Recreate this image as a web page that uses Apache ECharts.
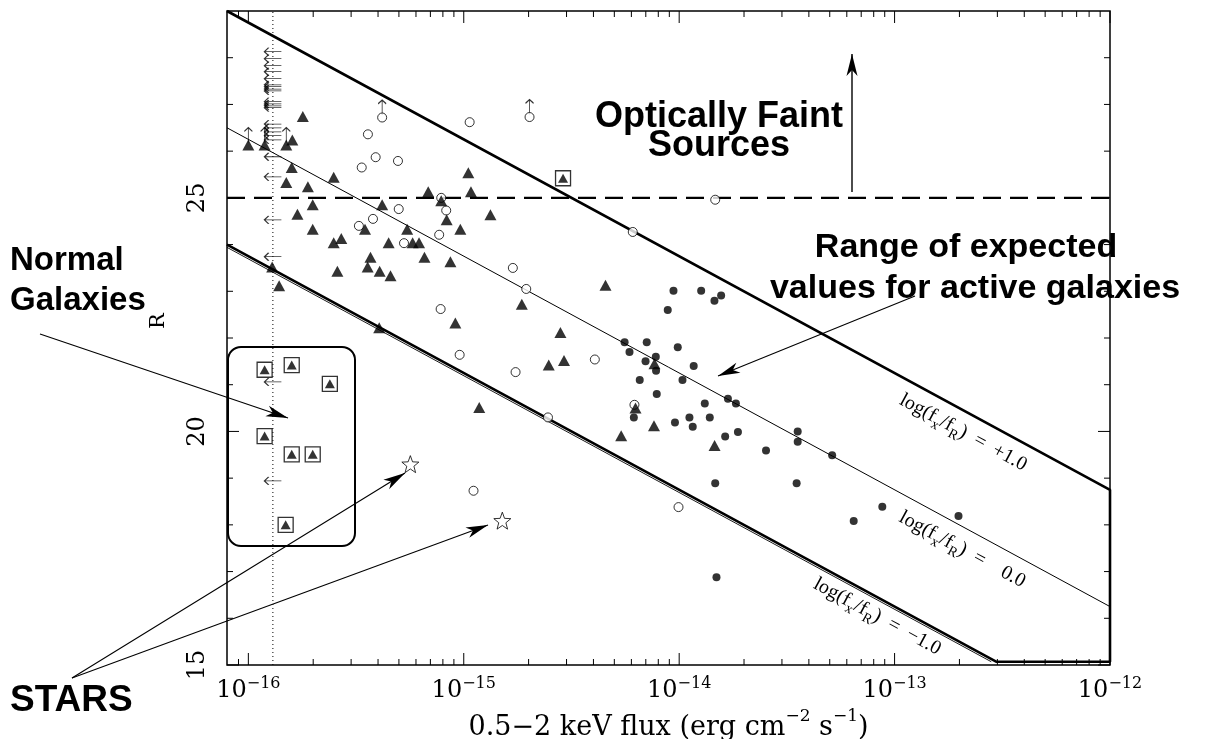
<!DOCTYPE html>
<html><head><meta charset="utf-8">
<script src="https://cdn.jsdelivr.net/npm/echarts@6/dist/echarts.min.js"></script>
<style>html,body{margin:0;padding:0;background:#fff}#c{width:1212px;height:739px}</style>
</head><body><div id="c"></div>
<script>
// ---------- data (0.5-2 keV flux, R magnitude) ----------
const triFlux = [1.00e-16,1.19e-16,1.50e-16,1.60e-16,1.79e-16,1.59e-16,1.50e-16,1.89e-16,2.49e-16,1.99e-16,1.69e-16,1.99e-16,2.49e-16,2.70e-16,3.69e-16,3.58e-16,2.59e-16,4.07e-16,4.57e-16,4.48e-16,5.79e-16,6.20e-16,3.48e-16,4.18e-16,5.46e-16,6.84e-16,7.86e-16,8.33e-16,9.64e-16,1.05e-15,1.08e-15,1.33e-15,6.57e-16,8.67e-16,1.29e-16,1.39e-16,4.05e-16,9.14e-16,1.86e-15,4.55e-15,2.81e-15,2.48e-15,2.92e-15,1.18e-15,7.64e-15,5.38e-15,1.46e-14,7.68e-15,6.27e-15];
const triR    = [26.13,26.13,26.13,26.24,26.74,25.65,25.33,25.24,25.44,24.85,24.65,24.33,24.04,24.13,23.73,23.52,23.43,23.43,23.33,24.04,24.04,24.04,24.33,24.85,24.33,25.13,24.94,24.53,24.33,25.54,25.13,24.64,23.73,23.63,23.52,23.12,22.22,22.32,22.72,23.13,22.12,21.42,21.52,20.51,20.12,19.91,19.70,21.45,20.50];

const openFlux = [4.18e-16,3.59e-16,3.90e-16,4.95e-16,3.36e-16,1.065e-15,2.02e-15,7.86e-16,8.29e-16,4.99e-16,3.79e-16,3.26e-16,7.69e-16,5.28e-16,1.69e-15,1.95e-15,7.81e-16,9.57e-16,1.74e-15,4.06e-15,2.46e-15,1.11e-15,6.09e-15,1.47e-14,9.93e-15,6.20e-15];
const openR    = [26.72,26.36,25.87,25.79,25.65,26.62,26.73,25.00,24.73,24.76,24.55,24.40,24.21,24.03,23.50,23.05,22.62,21.64,21.27,21.54,20.30,18.73,24.27,24.96,18.38,20.57];

const fillFlux = [9.41e-15,1.265e-14,1.566e-14,1.458e-14,8.85e-15,5.58e-15,7.07e-15,9.85e-15,5.88e-15,7.79e-15,6.98e-15,7.81e-15,1.168e-14,6.56e-15,1.036e-14,7.87e-15,1.684e-14,1.834e-14,1.315e-14,6.16e-15,1.116e-14,1.387e-14,9.56e-15,1.156e-14,1.635e-14,1.874e-14,2.53e-14,3.55e-14,3.55e-14,5.13e-14,1.47e-14,3.51e-14,8.77e-14,6.46e-14,1.98e-13,1.49e-14];
const fillR    = [23.01,23.01,22.91,22.80,22.60,21.91,21.91,21.80,21.70,21.60,21.50,21.30,21.40,21.10,21.10,20.80,20.70,20.60,20.60,20.30,20.30,20.30,20.19,20.10,19.89,19.99,19.59,20.00,19.78,19.49,18.89,18.89,18.39,18.08,18.19,16.88];

const boxFlux = [1.19e-16,1.59e-16,2.39e-16,1.19e-16,1.59e-16,1.99e-16,1.49e-16,2.89e-15];
const boxR    = [21.32,21.42,21.02,19.90,19.51,19.51,18.00,25.42];

const starFlux = [5.65e-16,1.51e-15];
const starR    = [19.30,18.09];

// X-ray upper limits (arrows pointing left) at the flux limit
const ulFlux = 1.3e-16;
const ulR = [28.13,27.98,27.83,27.70,27.55,27.42,27.38,27.33,27.29,27.06,27.01,26.97,26.93,26.58,26.50,26.41,26.33,26.24,25.88,25.45,24.53,23.74,21.06,18.94];

// R lower limits (arrows pointing up)
const llFlux = [1.00e-16,1.19e-16,1.50e-16,4.18e-16,2.02e-15];
const llR    = [26.13,26.13,26.13,26.72,26.73];

// reference lines
const bandFlux = [7.96e-17,1e-12,1e-12,2.96e-13,7.96e-17];
const bandR    = [29.0,18.75,15.07,15.07,24.0];
const bandInnerFlux = [7.96e-17,2.81e-13];
const bandInnerR    = [23.94,15.07];
const zeroLineFlux = [7.96e-17,1e-12];
const zeroLineR    = [26.5,16.25];
const faintLimitR = 25;
const fluxLimit = 1.3e-16;

// axes
const xMin = 7.96e-17, xMax = 1e-12, yMin = 15, yMax = 29;
const xMajorTicks = [1e-16,1e-15,1e-14,1e-13,1e-12];
const xMinorTicks = [9e-17,2e-16,3e-16,4e-16,5e-16,6e-16,7e-16,8e-16,9e-16,2e-15,3e-15,4e-15,5e-15,6e-15,7e-15,8e-15,9e-15,2e-14,3e-14,4e-14,5e-14,6e-14,7e-14,8e-14,9e-14,2e-13,3e-13,4e-13,5e-13,6e-13,7e-13,8e-13,9e-13];
const yMajorTicks = [15,20,25];
const yMinorTicks = [16,17,18,19,21,22,23,24,26,27,28];

// ---------- helpers ----------
const zip = (a, b) => a.map((v, i) => [v, b[i]]);
const MINUS = '\u2212';
function starPath() {
  let d = '';
  for (let i = 0; i < 10; i++) {
    const ang = (-90 + 36 * i) * Math.PI / 180;
    const r = i % 2 === 0 ? 10 : 4.2;
    d += (i === 0 ? 'M' : 'L') + (10 + r * Math.cos(ang)).toFixed(2) + ',' + (10 + r * Math.sin(ang)).toFixed(2) + ' ';
  }
  return 'path://' + d + 'Z';
}
function head(tx, ty, fx, fy, len, hw, notch) {
  const a = Math.atan2(ty - fy, tx - fx);
  const c = Math.cos(a), s = Math.sin(a);
  const bx = tx - len * c, by = ty - len * s;
  return [[tx, ty], [bx - hw * s, by + hw * c], [tx - (len - notch) * c, ty - (len - notch) * s], [bx + hw * s, by - hw * c]];
}
function arrow(x1, y1, x2, y2, w) {
  return [
    {type: 'polyline', z: 100, shape: {points: [[x1, y1], [x2, y2]]}, style: {stroke: '#000', lineWidth: w || 1.2, fill: null}},
    {type: 'polygon', z: 100, shape: {points: head(x2, y2, x1, y1, 22, 5.5, 6)}, style: {fill: '#000'}}
  ];
}
function ticksSeries(vals, major, isX) {
  return {
    type: 'custom', silent: true, clip: false, z: 20,
    encode: {x: 0, y: 1},
    data: vals.map(v => isX ? [v, yMin] : [xMin, v]),
    renderItem: function (params, api) {
      const cs = params.coordSys;
      const len = major ? 12 : 6;
      const st = {stroke: '#000', lineWidth: 1};
      if (isX) {
        const p = api.coord([api.value(0), yMin]);
        return {type: 'group', children: [
          {type: 'line', shape: {x1: p[0], y1: cs.y + cs.height, x2: p[0], y2: cs.y + cs.height - len}, style: st},
          {type: 'line', shape: {x1: p[0], y1: cs.y, x2: p[0], y2: cs.y + len}, style: st}
        ]};
      } else {
        const p = api.coord([xMin, api.value(1)]);
        return {type: 'group', children: [
          {type: 'line', shape: {x1: cs.x, y1: p[1], x2: cs.x + len, y2: p[1]}, style: st},
          {type: 'line', shape: {x1: cs.x + cs.width, y1: p[1], x2: cs.x + cs.width - len, y2: p[1]}, style: st}
        ]};
      }
    }
  };
}
const serif = '"Liberation Serif", "Times New Roman", serif';
const wserif = '"DejaVu Serif", "Liberation Serif", serif';
const sans = '"Liberation Sans", Arial, sans-serif';
const ratioRich = {
  n: {fontFamily: serif, fontSize: 20, lineHeight: 21, verticalAlign: 'top', color: '#000'},
  sub: {fontFamily: serif, fontSize: 14, lineHeight: 14, verticalAlign: 'top', padding: [10, 0, 0, 0], color: '#000'}
};
const lineAngle = -28.44 * Math.PI / 180;

const chart = echarts.init(document.getElementById('c'), null, {renderer: 'canvas'});
chart.setOption({
  animation: false,
  backgroundColor: '#fff',
  grid: {left: 227, right: 102, top: 11, bottom: 74, containLabel: false, outerBoundsMode: 'none',
    show: true, borderColor: '#000', borderWidth: 1.5, backgroundColor: 'transparent'},
  xAxis: {
    type: 'log', min: xMin, max: xMax, logBase: 10,
    axisLine: {show: false}, axisTick: {show: false}, splitLine: {show: false}, minorTick: {show: false},
    axisLabel: {
      margin: 7, showMinLabel: true, showMaxLabel: true, hideOverlap: false,
      formatter: function (v) {
        const e = Math.log10(v);
        if (Math.abs(e - Math.round(e)) > 1e-6) return '';
        return '{b|10}{s|' + MINUS + Math.abs(Math.round(e)) + '}';
      },
      rich: {
        b: {fontFamily: wserif, fontSize: 24, lineHeight: 24, verticalAlign: 'top', padding: [7, 0, 0, 0], color: '#000'},
        s: {fontFamily: wserif, fontSize: 16, lineHeight: 16, verticalAlign: 'top', padding: [4, 0, 0, 0], color: '#000'}
      }
    },
    name: '{t|0.5' + MINUS + '2 keV flux (erg cm}{s|' + MINUS + '2}{t| s}{s|' + MINUS + '1}{t|)}',
    nameLocation: 'middle', nameGap: 43,
    nameTextStyle: {
      rich: {
        t: {fontFamily: wserif, fontSize: 27, lineHeight: 27, verticalAlign: 'top', padding: [6, 0, 0, 0], color: '#000'},
        s: {fontFamily: wserif, fontSize: 17, lineHeight: 17, verticalAlign: 'top', color: '#000'}
      }
    }
  },
  yAxis: {
    type: 'value', min: yMin, max: yMax, interval: 5,
    axisLine: {show: false}, axisTick: {show: false}, splitLine: {show: false},
    axisLabel: {
      rotate: 90, margin: 17, fontFamily: wserif, fontSize: 24, color: '#000',
      formatter: v => (v % 5 === 0 ? String(v) : '')
    },
    name: 'R', nameLocation: 'middle', nameRotate: 90, nameGap: 58,
    nameTextStyle: {fontFamily: wserif, fontSize: 21, color: '#000', padding: [0, 0, 0, 34]}
  },
  series: [
    {type: 'line', data: zip(bandFlux, bandR), showSymbol: false, symbol: 'none', lineStyle: {color: '#000', width: 2.6}, z: 5, silent: true},
    {type: 'line', data: zip(bandInnerFlux, bandInnerR), showSymbol: false, symbol: 'none', lineStyle: {color: '#000', width: 0.9}, z: 5, silent: true},
    {type: 'line', data: zip(zeroLineFlux, zeroLineR), showSymbol: false, symbol: 'none', lineStyle: {color: '#000', width: 1}, z: 5, silent: true},
    {type: 'line', data: [[xMin, faintLimitR], [xMax, faintLimitR]], showSymbol: false, symbol: 'none', lineStyle: {color: '#000', width: 2.2, type: [18, 9]}, z: 5, silent: true},
    {type: 'line', data: [[fluxLimit, yMin], [fluxLimit, yMax]], showSymbol: false, symbol: 'none', lineStyle: {color: '#000', width: 1, type: [1, 3]}, z: 5, silent: true},
    ticksSeries(xMajorTicks, true, true),
    ticksSeries(xMinorTicks, false, true),
    ticksSeries(yMajorTicks, true, false),
    ticksSeries(yMinorTicks, false, false),
    {type: 'scatter', data: ulR.map(r => [ulFlux, r]), symbol: 'path://M0,4 L16,4 M4,0 L0,4 L4,8', symbolSize: [17, 8],
      itemStyle: {color: 'transparent', borderColor: '#000', borderWidth: 1.1}, z: 10, silent: true},
    {type: 'scatter', data: zip(llFlux, llR), symbol: 'path://M4,16 L4,0 M0,4 L4,0 L8,4', symbolSize: [8, 15], symbolOffset: [0, -10],
      itemStyle: {color: 'transparent', borderColor: '#000', borderWidth: 1.1}, z: 10, silent: true},
    {type: 'scatter', data: zip(openFlux, openR), symbol: 'circle', symbolSize: 9,
      itemStyle: {color: '#fff', borderColor: '#000', borderWidth: 1}, z: 11, silent: true},
    {type: 'scatter', data: zip(fillFlux, fillR), symbol: 'circle', symbolSize: 8,
      itemStyle: {color: '#000'}, z: 11, silent: true},
    {type: 'scatter', data: zip(triFlux, triR), symbol: 'triangle', symbolSize: [12, 11],
      itemStyle: {color: '#000'}, z: 12, silent: true},
    {type: 'scatter', data: zip(boxFlux, boxR), symbol: 'rect', symbolSize: 15,
      itemStyle: {color: '#fff', borderColor: '#000', borderWidth: 1.3}, z: 12, silent: true},
    {type: 'scatter', data: zip(boxFlux, boxR), symbol: 'triangle', symbolSize: [10, 9],
      itemStyle: {color: '#000'}, z: 13, silent: true},
    {type: 'scatter', data: zip(starFlux, starR), symbol: starPath(), symbolSize: 17,
      itemStyle: {color: '#fff', borderColor: '#000', borderWidth: 1}, z: 12, silent: true}
  ],
  graphic: [
    {type: 'text', z: 100, x: 719, y: 132, style: {text: 'Optically Faint\nSources', font: 'bold 36px ' + sans, lineHeight: 29, align: 'center', verticalAlign: 'middle', fill: '#000'}},
    ...arrow(852, 192, 852, 54, 1.4),
    {type: 'text', z: 100, x: 966, y: 248, style: {text: 'Range of expected', font: 'bold 34px ' + sans, align: 'center', verticalAlign: 'middle', fill: '#000'}},
    {type: 'text', z: 100, x: 975, y: 289, style: {text: 'values for active galaxies', font: 'bold 34px ' + sans, align: 'center', verticalAlign: 'middle', fill: '#000'}},
    ...arrow(915, 296, 718, 376, 1.1),
    {type: 'text', z: 100, x: 10, y: 281, style: {text: 'Normal\nGalaxies', font: 'bold 33px ' + sans, lineHeight: 40, align: 'left', verticalAlign: 'middle', fill: '#000'}},
    ...arrow(40, 334, 288, 418, 1.1),
    {type: 'text', z: 100, x: 10, y: 701, style: {text: 'STARS', font: 'bold 37px ' + sans, align: 'left', verticalAlign: 'middle', fill: '#000'}},
    ...arrow(72, 678, 405, 473, 1.1),
    ...arrow(72, 678, 488, 525, 1.1),
    {type: 'rect', z: 100, shape: {x: 228, y: 347, width: 127, height: 199, r: 13}, style: {fill: null, stroke: '#000', lineWidth: 2}},
    {type: 'text', z: 100, x: 963, y: 433, rotation: lineAngle, style: {text: '{n|log(f}{sub|x}{n|/f}{sub|R}{n|)  =  +1.0}', rich: ratioRich, align: 'center', verticalAlign: 'middle'}},
    {type: 'text', z: 100, x: 962, y: 550, rotation: lineAngle, style: {text: '{n|log(f}{sub|x}{n|/f}{sub|R}{n|)  =    0.0}', rich: ratioRich, align: 'center', verticalAlign: 'middle'}},
    {type: 'text', z: 100, x: 877, y: 617, rotation: lineAngle, style: {text: '{n|log(f}{sub|x}{n|/f}{sub|R}{n|)  =  ' + MINUS + '1.0}', rich: ratioRich, align: 'center', verticalAlign: 'middle'}}
  ]
});
</script>
</body></html>
